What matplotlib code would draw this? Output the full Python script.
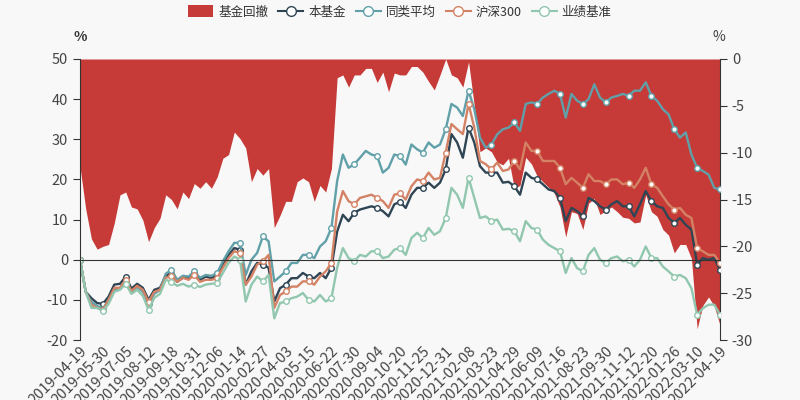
import matplotlib
matplotlib.use("Agg")
import matplotlib.pyplot as plt
from matplotlib.patches import Patch
from matplotlib.lines import Line2D

plt.rcParams['font.family'] = ['Noto Sans CJK SC', 'DejaVu Sans']
plt.rcParams['axes.unicode_minus'] = False

# tick labels (category axis, one label every 4 points)
dates = ['2019-04-19', '2019-05-30', '2019-07-05', '2019-08-12', '2019-09-18', '2019-10-31',
         '2019-12-06', '2020-01-14', '2020-02-27', '2020-04-03', '2020-05-15', '2020-06-22',
         '2020-07-30', '2020-09-04', '2020-10-20', '2020-11-25', '2020-12-31', '2021-02-08',
         '2021-03-23', '2021-04-29', '2021-06-09', '2021-07-16', '2021-08-23', '2021-09-30',
         '2021-11-12', '2021-12-20', '2022-01-26', '2022-03-10', '2022-04-19']

# 基金回撤 (right axis, %)
drawdown = [-11.5, -16, -19.2, -20.3, -20.0, -19.8, -17.5, -14.5, -14.2, -15.8, -16.0, -17.2,
            -19.5, -18.0, -17.0, -14.5, -15.0, -16.0, -14.2, -14.9, -13.3, -13.8, -13.1, -13.8,
            -12.6, -10.6, -10.2, -7.8, -8.5, -9.5, -13.1, -11.7, -12.4, -11.7, -18.0, -16.7,
            -15.2, -15.2, -13.1, -12.7, -13.1, -15.2, -13.5, -14.2, -11.7, -2.0, -1.7, -3.0,
            -1.7, -1.7, -1.0, -1.0, -2.5, -1.4, -3.5, -1.5, -1.7, -1.7, -0.8, -0.8,
            -1.4, -2.4, -3.3, -1.7, 0.0, -1.7, -2.0, -3.0, -0.3, -5.0, -9.9, -9.5,
            -9.9, -11.0, -11.3, -10.6, -13.8, -13.5, -10.5, -11.2, -12.5, -13.1, -13.7, -14.3,
            -15.8, -19.0, -16.3, -16.5, -18.2, -15.4, -14.9, -16.6, -16.2, -15.8, -16.3, -16.9,
            -17.0, -17.5, -17.4, -14.5, -16.3, -16.8, -18.2, -18.8, -20.7, -19.8, -19.8, -21.3,
            -28.8, -26.3, -25.4, -26.4, -28.4]

# 本基金
fund = [0, -8, -9.6, -10.8, -11, -9.2, -6.2, -6, -4.2, -7.2, -6, -7,
        -10, -7.5, -7, -4, -3.5, -5.5, -4.5, -4.6, -3.4, -5, -4.2, -4.6,
        -3.8, -1.2, 1.2, 2.9, 2.5, -6.2, -2.9, -0.8, -1.2, -2, -10.4, -7.1,
        -6.2, -4.6, -4.6, -3.3, -4.2, -4.6, -3.3, -4.6, -2, 7.0, 11.2, 9.6,
        11.7, 12.5, 12.9, 13.3, 12.9, 12.1, 10.8, 13.8, 14.4, 12.9, 16.2, 17.9,
        17.9, 19.2, 17.9, 19.2, 22.5, 31.3, 29.2, 25.4, 32.9, 29.2, 23.3, 21.7,
        21.7, 21.7, 19.2, 19.4, 18.3, 16.2, 21.7, 20.4, 20, 18.8, 17.5, 17.1,
        15.4, 9.6, 12.9, 12.1, 10.8, 15.4, 14.6, 13.3, 12.5, 13.8, 14.6, 13.3,
        13.3, 10.8, 13.8, 17.1, 14.6, 13.3, 12.9, 10.4, 9.2, 10.4, 8.7, 7.5,
        -1.2, 0.4, 0, 0.4, -2.5]

# 同类平均
peers = [0, -8, -10.5, -11.5, -12.2, -10, -7.5, -7, -5.5, -8, -6.8, -8,
         -11, -8.5, -7.5, -3.5, -2.5, -5, -4, -4.2, -2.9, -4.5, -3.8, -4,
         -3.3, -0.4, 2.1, 4.2, 4.2, -3.8, 0, 1.7, 5.8, 4.6, -5.4, -4.2,
         -2.9, -0.8, -0.8, 1.2, 1.2, 0.4, 3.3, 4.6, 7.9, 19.6, 26.2, 22.9,
         23.8, 25.4, 27.1, 26.2, 25.8, 21.7, 22.9, 26.2, 25.8, 23.7, 28.7, 27.5,
         26.7, 29.2, 27.9, 28.7, 32.5, 38.8, 37.9, 35.8, 42.1, 37.5, 30.4, 27.9,
         28.7, 31.2, 32.5, 32.9, 34.2, 32.1, 38.8, 39.2, 38.8, 40.4, 41.3, 42.1,
         41.3, 35.4, 41.3, 39.6, 38.8, 40, 43.7, 40.4, 39.2, 40.4, 40.8, 41.3,
         40.8, 42.1, 42.1, 44.2, 40.8, 39.6, 37.5, 36.2, 32.5, 30.4, 31.7, 26.2,
         22.9, 22.1, 21.2, 17.9, 17.5]

# 沪深300
hs300 = [0, -8, -11.2, -12, -12.5, -10, -7, -7, -5, -7.8, -6.5, -7.5,
         -10.5, -8, -7.5, -4.5, -4, -5.5, -4.5, -5, -3.8, -5.5, -5, -5,
         -4.6, -2, 0.4, 2.1, 1.7, -6.2, -4.2, -1.2, -0.4, 1.2, -12, -8.8,
         -7.9, -6.7, -6.7, -5.4, -5.4, -6.2, -4.2, -2.9, -0.8, 12, 17.1, 14.6,
         13.8, 15.4, 15.8, 16.2, 15.4, 14.6, 12.9, 16.2, 16.5, 15, 18.3, 20,
         19.6, 21.7, 20, 20.4, 26.7, 33.8, 32.5, 31.3, 38.8, 32.9, 24.6, 23.8,
         22.5, 24.2, 22.1, 22.5, 24.6, 22.5, 29.2, 27.1, 27.1, 24.6, 24.6, 24.6,
         22.9, 18.8, 20.4, 19.2, 17.9, 21.3, 19.6, 19.6, 18.8, 20, 20, 18.8,
         19.2, 17.9, 20, 22.9, 18.8, 17.9, 15.8, 13.8, 12.5, 12.9, 11.2, 10.4,
         2.9, 2.1, 1.2, 1.2, -0.8]

# 业绩基准
bench = [0, -8, -12, -12, -12.8, -11, -8, -7.5, -6, -8.5, -7.5, -9,
         -12.5, -9.5, -8.5, -5, -5.5, -6.5, -6, -6.7, -6.2, -6.8, -6.2, -6,
         -5.8, -3.3, -0.8, 0.8, 0, -10.4, -6.2, -4.2, -5.4, -3.8, -14.6, -10.8,
         -10.4, -9.6, -9.2, -8.3, -10, -10.4, -8.8, -10.4, -9.6, -2, 2.9, 0.4,
         -0.4, 1.2, 0.8, 2.1, 2.1, 0.4, 0.8, 2.5, 2.9, 1.2, 5.4, 6.7,
         5.4, 7.9, 6.2, 7.1, 10.4, 17.9, 16.2, 12.9, 20.4, 15.4, 10.4, 10.8,
         9.6, 10, 7.5, 7.7, 7.1, 4.6, 9.6, 7.9, 7.5, 5, 3.7, 2.9,
         2.1, -3.3, 0.4, -2.1, -2.9, 1.2, 2.9, 0, -0.8, 0.4, 0.8, -0.4,
         0, -1.7, 0, 3.3, 0.4, 0.4, -1.7, -2.9, -4.2, -3.8, -4.6, -7.1,
         -13.7, -12.1, -11.2, -11.2, -13.7]

series = [('本基金', fund, '#2f4554'), ('同类平均', peers, '#61a0a8'),
          ('沪深300', hs300, '#d48265'), ('业绩基准', bench, '#91c7ae')]

x = list(range(len(fund)))
tick_pos = x[::4]
bg = '#f8f8f8'
txt = '#333333'
red = '#c63a37'

fig = plt.figure(figsize=(8, 4), dpi=100, facecolor=bg)
ax = fig.add_axes([0.1, 0.15, 0.8, 0.7025])
ax2 = ax.twinx()
ax.set_zorder(ax2.get_zorder() + 1)
ax.patch.set_visible(False)
ax2.patch.set_visible(True)
ax2.patch.set_facecolor(bg)

# drawdown (dense daily bars in the original) on the right axis
ax2.fill_between(x, drawdown, 0, color=red, linewidth=0)
ax2.set_ylim(-30, 0)
ax2.set_yticks(range(-30, 1, 5))

# return lines on the left axis
for name, vals, col in series:
    ax.plot(x, vals, color=col, lw=1.7, marker='o', markevery=4, markersize=4,
            markerfacecolor='white', markeredgecolor=col, markeredgewidth=1)

ax.set_xlim(0, len(x) - 1)
ax.set_ylim(-20, 50)
ax.set_yticks(range(-20, 51, 10))

for a in (ax, ax2):
    for s in ('top', 'left', 'right', 'bottom'):
        a.spines[s].set_visible(False)
ax.spines['left'].set_visible(True)
ax.spines['left'].set_color(txt)
ax2.spines['right'].set_visible(True)
ax2.spines['right'].set_color(txt)

# x axis line sits on zero of the left axis
ax.spines['bottom'].set_visible(True)
ax.spines['bottom'].set_position(('data', 0))
ax.spines['bottom'].set_color(txt)
ax.set_xticks(tick_pos)
ax.tick_params(axis='x', labelbottom=False, length=5, color=txt)
ax2.set_xticks([])

sec = ax.secondary_xaxis('bottom')
sec.set_xticks(tick_pos, labels=dates)
sec.spines['bottom'].set_visible(False)
sec.tick_params(length=0, pad=3, labelsize=10.5, labelcolor='#444444')
for lbl in sec.get_xticklabels():
    lbl.set_rotation(45)
    lbl.set_ha('right')
    lbl.set_rotation_mode('anchor')

ax.tick_params(axis='y', length=5, color=txt, labelsize=10.5, labelcolor='#444444')
ax2.tick_params(axis='y', length=5, color=txt, labelsize=10.5, labelcolor='#444444')

fig.text(0.1, 1 - 37 / 400, '%', ha='center', va='center', fontsize=10, color=txt, fontweight='bold')
fig.text(0.899, 1 - 37 / 400, '%', ha='center', va='center', fontsize=10, color='#444444')

handles = [Patch(facecolor=red, edgecolor='none', label='基金回撤')]
for name, vals, col in series:
    handles.append(Line2D([0], [0], color=col, lw=1.5, marker='o', markersize=7,
                          markerfacecolor='white', markeredgecolor=col, label=name))
fig.legend(handles=handles, loc='center', bbox_to_anchor=(0.5, 1 - 12 / 400), ncol=5,
           frameon=False, fontsize=9, handlelength=2.0, handleheight=1.1,
           columnspacing=0.8, handletextpad=0.4, labelcolor=txt)

fig.savefig('out.png', dpi=100, facecolor=bg)
